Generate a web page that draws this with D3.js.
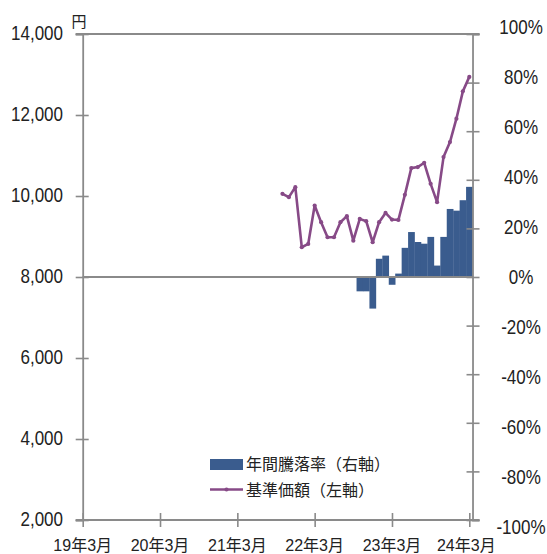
<!DOCTYPE html>
<html>
<head>
<meta charset="utf-8">
<script src="https://cdn.jsdelivr.net/npm/d3@7"></script>
<style>
  body { margin: 0; background: #fff; }
  text { font-family: "Liberation Sans", Arial, "Noto Sans CJK JP", sans-serif; fill: #222; }
</style>
</head>
<body>
<svg id="chart" width="547" height="554"></svg>
<script>
// month labels for the line (基準価額) and the bars (年間騰落率)
const priceMonths = ["2021-10","2021-11","2021-12","2022-01","2022-02","2022-03","2022-04","2022-05","2022-06","2022-07","2022-08","2022-09",
  "2022-10","2022-11","2022-12","2023-01","2023-02","2023-03","2023-04","2023-05","2023-06","2023-07","2023-08","2023-09",
  "2023-10","2023-11","2023-12","2024-01","2024-02","2024-03"];
const prices = [10054, 9972, 10219, 8735, 8816, 9764, 9353, 8982, 8982, 9353, 9502, 8898,
  9435, 9378, 8858, 9353, 9583, 9418, 9410, 10029, 10689, 10714, 10820, 10301,
  9848, 10961, 11332, 11909, 12584, 12941];

const rateMonths = ["2022-10","2022-11","2022-12","2023-01","2023-02","2023-03","2023-04","2023-05","2023-06","2023-07","2023-08","2023-09",
  "2023-10","2023-11","2023-12","2024-01","2024-02","2024-03"];
const rates = [-5.9, -5.9, -13.0, 7.5, 8.8, -3.2, 1.4, 12.0, 18.5, 14.4, 13.7, 16.5, 4.7, 16.5, 28.0, 27.3, 31.6, 37.1];

const xTickMonths = ["2019-03","2020-03","2021-03","2022-03","2023-03","2024-03"];
const xTickLabels = ["19年3月","20年3月","21年3月","22年3月","23年3月","24年3月"];
const leftTicks = [2000, 4000, 6000, 8000, 10000, 12000, 14000];
const rightTicks = [-100, -80, -60, -40, -20, 0, 20, 40, 60, 80, 100];
const legendLabels = ["年間騰落率（右軸）", "基準価額（左軸）"];

const svg = d3.select("#chart");
const axisColor = "#8a8a8a";
const barColor = "#3a5c8e";
const lineColor = "#874a87";

// month index counted from 2019-03
function idx(s) {
  const [y, m] = s.split("-").map(Number);
  return (y - 2019) * 12 + (m - 3);
}

const plotLeft = 82.7, plotTop = 34, plotBottom = 520;
const x = d3.scaleLinear().domain([0, 60]).range([plotLeft, 469.3]);
const plotRight = x(60.5);
const yL = d3.scaleLinear().domain([2000, 14000]).range([plotBottom, plotTop]);
const yR = d3.scaleLinear().domain([-100, 100]).range([plotBottom, plotTop]);
// the right-hand labels sit on a slightly wider spacing than the ticks
const yRLabel = d3.scaleLinear().domain([-100, 100]).range([526.5, 27]);
const bw = x(1) - x(0);

// bars
svg.append("g").selectAll("rect")
  .data(rates)
  .enter().append("rect")
    .attr("x", (d, i) => x(idx(rateMonths[i])) - bw / 2)
    .attr("width", bw + 0.3)
    .attr("y", d => yR(Math.max(0, d)))
    .attr("height", d => Math.abs(yR(d) - yR(0)))
    .attr("fill", barColor);

// axes
function styleAxis(g) {
  g.select(".domain").attr("stroke", axisColor).attr("stroke-width", 1.8);
  g.selectAll(".tick line").attr("stroke", axisColor).attr("stroke-width", 1.6);
  g.selectAll(".tick text").remove();
}

svg.append("g")
  .attr("transform", `translate(${plotLeft},0)`)
  .call(d3.axisLeft(yL).tickValues(leftTicks).tickSizeOuter(0).tickSize(7).tickFormat(""))
  .call(styleAxis)
  .call(g => g.selectAll(".tick line").attr("x2", -7).attr("x1", 6));

svg.append("g")
  .attr("transform", `translate(${plotRight},0)`)
  .call(d3.axisRight(yR).tickValues(rightTicks).tickSizeOuter(0).tickSize(7).tickFormat(""))
  .call(styleAxis)
  .call(g => g.selectAll(".tick line").attr("x1", -6).attr("x2", 7));

svg.append("g")
  .attr("transform", `translate(0,${plotBottom})`)
  .call(d3.axisBottom(x).tickValues(xTickMonths.map(idx)).tickSizeOuter(0).tickSize(7).tickFormat(""))
  .call(styleAxis)
  .call(g => g.select(".domain").attr("d", `M${plotLeft - 7},0H${plotRight + 7}`))
  .call(g => g.selectAll(".tick line").attr("y1", -7).attr("y2", 7));

// top frame line and zero line
svg.append("line")
  .attr("x1", plotLeft - 7).attr("x2", plotRight + 7)
  .attr("y1", yL(14000)).attr("y2", yL(14000))
  .attr("stroke", axisColor).attr("stroke-width", 1.8);
svg.append("line")
  .attr("x1", plotLeft).attr("x2", plotRight)
  .attr("y1", yR(0)).attr("y2", yR(0))
  .attr("stroke", axisColor).attr("stroke-width", 1.8);

// line
const line = d3.line()
  .x((d, i) => x(idx(priceMonths[i])))
  .y(d => yL(d));
svg.append("path")
  .datum(prices)
  .attr("d", line)
  .attr("fill", "none")
  .attr("stroke", lineColor)
  .attr("stroke-width", 2.6)
  .attr("stroke-linejoin", "round");
svg.append("g").selectAll("circle")
  .data(prices)
  .enter().append("circle")
    .attr("cx", (d, i) => x(idx(priceMonths[i])))
    .attr("cy", d => yL(d))
    .attr("r", 2.1)
    .attr("fill", lineColor);

// tick labels, drawn a little taller than wide like the source
function label(px, py, str, anchor) {
  svg.append("g")
    .attr("transform", `translate(${px},${py})`)
    .append("text")
      .attr("transform", "scale(1,1.17)")
      .attr("y", 6.1)
      .attr("text-anchor", anchor)
      .attr("font-size", 17)
      .text(str);
}
leftTicks.forEach(v => label(63, yL(v) - 1.5, d3.format(",")(v), "end"));
rightTicks.forEach(v => label(521, yRLabel(v), v + "%", "middle"));

svg.append("g").selectAll("text")
  .data(xTickLabels)
  .enter().append("text")
    .attr("x", (d, i) => x(idx(xTickMonths[i])) - (i === 5 ? 3 : 0))
    .attr("y", 551)
    .attr("text-anchor", "middle")
    .attr("font-size", 16)
    .text(d => d);

svg.append("text")
  .attr("x", 79).attr("y", 27)
  .attr("text-anchor", "middle")
  .attr("font-size", 15)
  .text("円");

// legend
const lg = svg.append("g").attr("transform", "translate(210,0)");
lg.append("rect")
  .attr("x", 0).attr("y", 459)
  .attr("width", 33).attr("height", 11)
  .attr("fill", barColor);
lg.append("line")
  .attr("x1", 0).attr("x2", 33)
  .attr("y1", 489.5).attr("y2", 489.5)
  .attr("stroke", lineColor).attr("stroke-width", 2.6);
lg.append("circle")
  .attr("cx", 16.5).attr("cy", 489.5).attr("r", 2.1)
  .attr("fill", lineColor);
lg.selectAll("text.leg")
  .data(legendLabels)
  .enter().append("text")
    .attr("class", "leg")
    .attr("x", 36)
    .attr("y", (d, i) => 470 + i * 25.5)
    .attr("font-size", 16)
    .text(d => d);
</script>
</body>
</html>
